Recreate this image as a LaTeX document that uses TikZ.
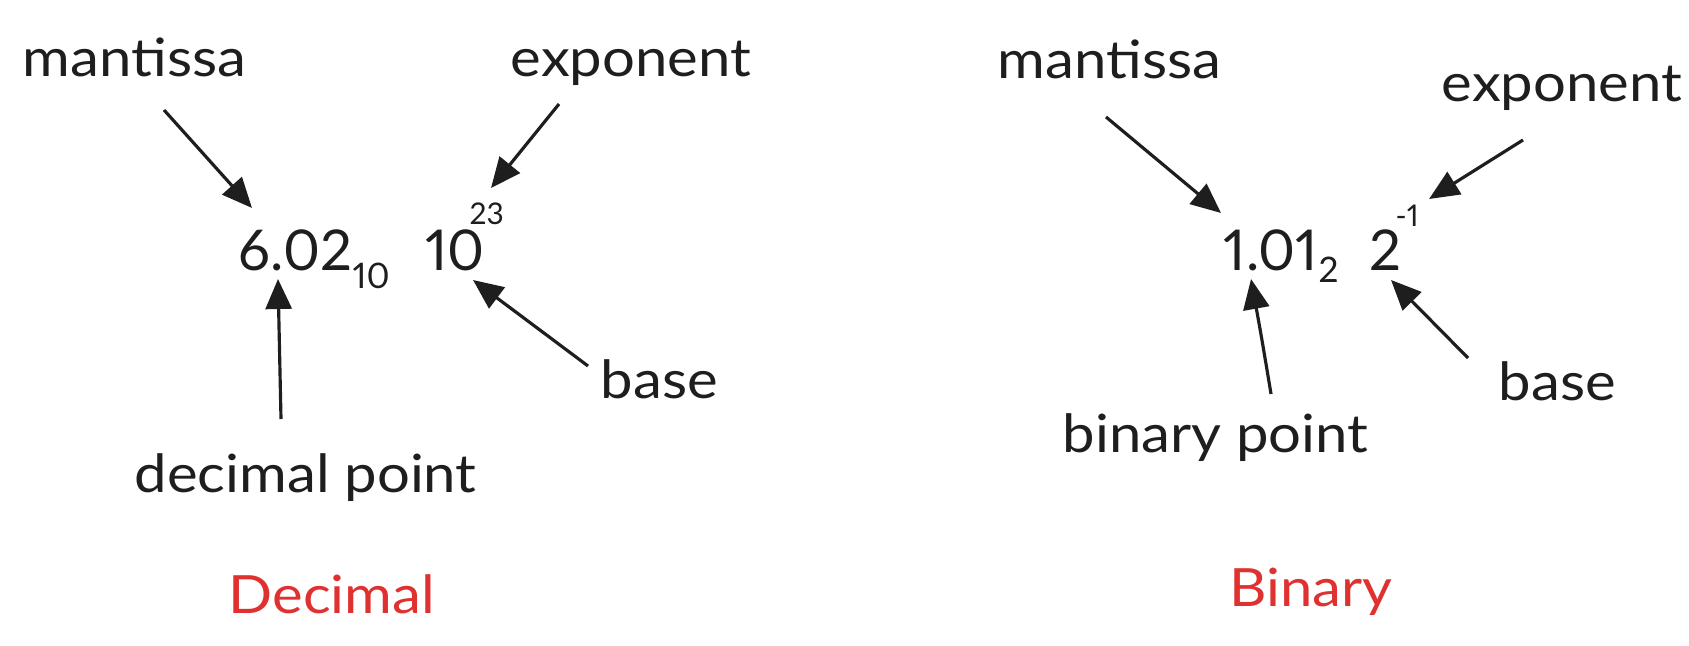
\documentclass[tikz,border=0pt]{standalone}
\usepackage{fontspec}
\newfontfamily\sketch[FakeStretch=1.1]{Lato}
\newfontfamily\sketchnum[Numbers=Proportional]{Lato}
\usepackage{tikz}
\usetikzlibrary{arrows.meta}
\definecolor{ink}{HTML}{1E1E1E}
\definecolor{exred}{HTML}{E03131}

\begin{document}
\begin{tikzpicture}[
        x=0.01cm, y=-0.01cm,
        >={Triangle[length=3mm, width=2.6mm]},
        lbl/.style   ={font=\sketch\fontsize{15}{18}\selectfont, text=ink, inner sep=0pt, anchor=base west},
        num/.style   ={lbl, font=\sketchnum\fontsize{16}{19}\selectfont},
        subs/.style  ={lbl, font=\sketchnum\fontsize{10}{12}\selectfont},
        sups/.style  ={lbl, font=\sketchnum\fontsize{8.5}{10}\selectfont},
        title/.style ={lbl, text=exred},
        flow/.style  ={->, draw=ink, line width=0.9pt}
    ]
    \useasboundingbox (0,0) rectangle (1689,646);

    % decimal side
    \node[lbl]   (manL)  at (22,77)   {mantissa};
    \node[lbl]   (expL)  at (510,77)  {exponent};
    \node[num]   (numL)  at (238,271) {6.02};
    \node[subs]  (subL)  at (352,288) {10};
    \node[num]   (bsvL)  at (425,271) {10};
    \node[sups]  (supL)  at (469,225) {23};
    \node[lbl]   (baseL) at (600,398) {base};
    \node[lbl]   (ptL)   at (134,492) {decimal point};
    \node[title] (ttlL)  at (228,613) {Decimal};

    \coordinate (manLa) at (164,110);  \coordinate (manLb) at (252,208);
    \coordinate (expLa) at (559,104);  \coordinate (expLb) at (491,188);
    \coordinate (ptLa)  at (281,419);  \coordinate (ptLb)  at (278,279);
    \coordinate (basLa) at (588,366);  \coordinate (basLb) at (473,280);

    \draw[flow] (manLa) -- (manLb);
    \draw[flow] (expLa) -- (expLb);
    \draw[flow] (ptLa)  -- (ptLb);
    \draw[flow] (basLa) -- (basLb);

    % binary side
    \node[lbl]   (manR)  at (997,79)   {mantissa};
    \node[lbl]   (expR)  at (1441,102) {exponent};
    \node[num]   (numR)  at (1223,271) {1.01};
    \node[subs]  (subR)  at (1318,283) {2};
    \node[num]   (bsvR)  at (1369,271) {2};
    \node[sups]  (supR)  at (1395,227) {-1};
    \node[lbl]   (baseR) at (1498,400) {base};
    \node[lbl]   (ptR)   at (1062,452) {binary point};
    \node[title] (ttlR)  at (1229,606) {Binary};

    \coordinate (manRa) at (1106,117); \coordinate (manRb) at (1221,213);
    \coordinate (expRa) at (1523,140); \coordinate (expRb) at (1429,199);
    \coordinate (ptRa)  at (1271,394); \coordinate (ptRb)  at (1251,279);
    \coordinate (basRa) at (1468,358); \coordinate (basRb) at (1391,280);

    \draw[flow] (manRa) -- (manRb);
    \draw[flow] (expRa) -- (expRb);
    \draw[flow] (ptRa) .. controls (1262,340) .. (ptRb);
    \draw[flow] (basRa) -- (basRb);
\end{tikzpicture}
\end{document}
